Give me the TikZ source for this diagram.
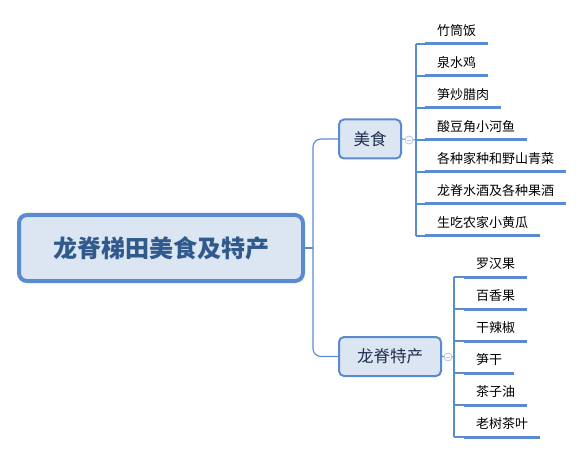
\documentclass[tikz,border=0pt]{standalone}
\usepackage{fontspec}
\setmainfont{Noto Sans CJK SC}
\usetikzlibrary{positioning}
\definecolor{mapblue}{HTML}{5A8AD0}
\definecolor{mapfill}{HTML}{DCE6F2}
\definecolor{roottext}{HTML}{30598C}
\definecolor{subtext}{HTML}{1E2D4A}
\definecolor{knobblue}{HTML}{B8CAEA}

\begin{document}
\begin{tikzpicture}[x=1pt,y=-1pt,
    rootbox/.style={draw=mapblue, line width=4pt, fill=mapfill, rounded corners=8pt,
      minimum width=284pt, minimum height=66pt, text=roottext,
      font=\fontsize{24}{27}\selectfont\bfseries},
    subbox/.style={draw=mapblue, line width=2pt, fill=mapfill, rounded corners=5pt,
      minimum height=39pt, text=subtext, font=\fontsize{16.5}{19}\selectfont},
    leaf/.style={anchor=south west, inner xsep=12pt, inner ysep=0pt, text height=12pt,
      text depth=8pt, font=\fontsize{13}{15}\selectfont},
    link/.style={draw=mapblue, line width=1.1pt},
    underline/.style={draw=mapblue, line width=3pt},
    knob/.style={circle, draw=knobblue, fill=white, line width=0.9pt, inner sep=0pt, minimum size=8pt}]

  \useasboundingbox (0,0) rectangle (583,454);

  % Root and the two branches
  \node[rootbox] (root) at (161,248) {龙脊梯田美食及特产};
  \node[subbox, minimum width=62pt] (food) at (370,139) {美食};
  \node[subbox, minimum width=102pt] (spec) at (390,356.5) {龙脊特产};

  \coordinate (trunk) at (313,248);
  \draw[link] (root.east) -- (trunk);
  \draw[link, rounded corners=8pt] (trunk) |- (food.west);
  \draw[link, rounded corners=8pt] (trunk) |- (spec.west);

  % Food items
  \coordinate (fs) at (416,140);
  \foreach \t [count=\i] in {竹筒饭,泉水鸡,笋炒腊肉,酸豆角小河鱼,各种家种和野山青菜,龙脊水酒及各种果酒,生吃农家小黄瓜} {
      \node[leaf] (f\i) at (425,{12+32*\i}) {\t};
      \draw[link] (fs |- f\i.south west) -- (f\i.south west);
      \draw[underline] (f\i.south west) -- (f\i.south east);
  }
  \draw[link] (fs |- f1.south west) -- (fs |- f7.south west);
  \draw[link] (food.east) -- (fs);
  \node[knob] (fk) at (409,140) {};
  \draw[knobblue, line width=0.9pt] ([xshift=2pt]fk.west) -- ([xshift=-2pt]fk.east);

  % Specialty items
  \coordinate (ss) at (454,357);
  \foreach \t [count=\i] in {罗汉果,百香果,干辣椒,笋干,茶子油,老树茶叶} {
      \node[leaf] (s\i) at (464,{245+32*\i}) {\t};
      \draw[link] (ss |- s\i.south west) -- (s\i.south west);
      \draw[underline] (s\i.south west) -- (s\i.south east);
  }
  \draw[link] (ss |- s1.south west) -- (ss |- s6.south west);
  \draw[link] (spec.east) -- (ss);
  \node[knob] (sk) at (448,357) {};
  \draw[knobblue, line width=0.9pt] ([xshift=2pt]sk.west) -- ([xshift=-2pt]sk.east);

\end{tikzpicture}
\end{document}
